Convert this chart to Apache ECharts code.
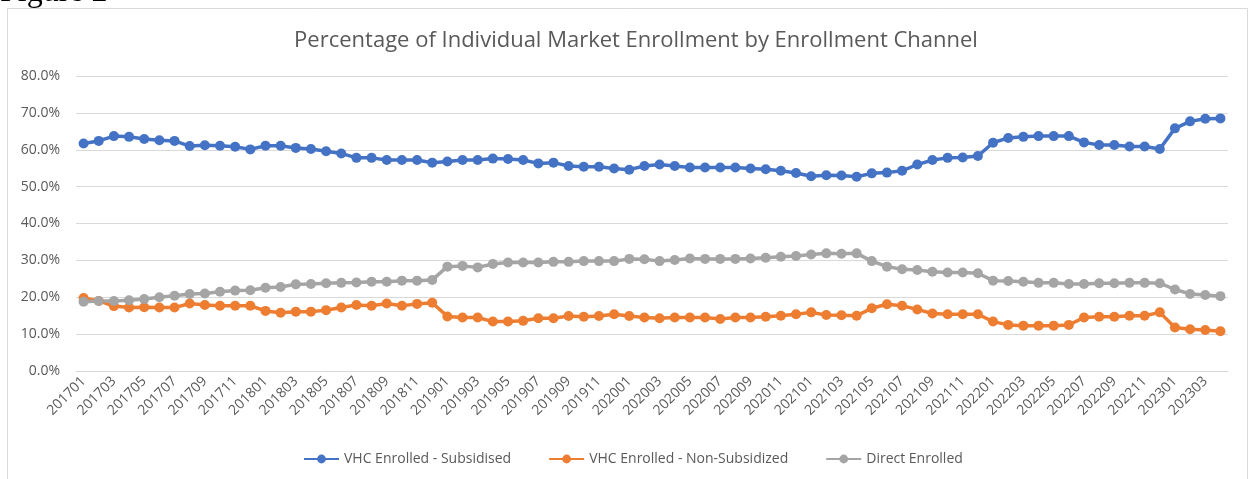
<!DOCTYPE html>
<html>
<head>
<meta charset="utf-8">
<title>Enrollment Channel</title>
<script src="https://cdn.jsdelivr.net/npm/echarts@6/dist/echarts.min.js"></script>
<style>
	html, body { margin: 0; padding: 0; background: #fff; }
	#chart { width: 1250px; height: 479px; }
</style>
</head>
<body>
<div id="chart"></div>
<script>
const months = [
	"201701", "201702", "201703", "201704", "201705", "201706", "201707", "201708", "201709", "201710", "201711", "201712",
	"201801", "201802", "201803", "201804", "201805", "201806", "201807", "201808", "201809", "201810", "201811", "201812",
	"201901", "201902", "201903", "201904", "201905", "201906", "201907", "201908", "201909", "201910", "201911", "201912",
	"202001", "202002", "202003", "202004", "202005", "202006", "202007", "202008", "202009", "202010", "202011", "202012",
	"202101", "202102", "202103", "202104", "202105", "202106", "202107", "202108", "202109", "202110", "202111", "202112",
	"202201", "202202", "202203", "202204", "202205", "202206", "202207", "202208", "202209", "202210", "202211", "202212",
	"202301", "202302", "202303", "202304"
];

// percentages
const subsidised = [
	61.7, 62.4, 63.7, 63.5, 62.9, 62.6, 62.4, 61.0, 61.2, 61.1, 60.8, 60.1,
	61.1, 61.1, 60.5, 60.2, 59.6, 59.0, 57.8, 57.8, 57.2, 57.2, 57.2, 56.5,
	56.8, 57.2, 57.2, 57.6, 57.5, 57.2, 56.3, 56.5, 55.6, 55.4, 55.4, 54.9,
	54.6, 55.6, 56.0, 55.6, 55.2, 55.2, 55.2, 55.2, 54.9, 54.7, 54.3, 53.7,
	52.8, 53.1, 53.0, 52.7, 53.6, 53.8, 54.3, 56.0, 57.2, 57.8, 57.9, 58.3,
	61.9, 63.2, 63.5, 63.7, 63.7, 63.7, 62.0, 61.3, 61.3, 60.9, 60.9, 60.2,
	65.8, 67.7, 68.4, 68.5
];
const nonSubsidized = [
	19.8, 19.0, 17.6, 17.2, 17.3, 17.2, 17.2, 18.3, 17.9, 17.7, 17.7, 17.7,
	16.3, 15.8, 16.1, 16.1, 16.5, 17.2, 17.9, 17.7, 18.3, 17.7, 18.2, 18.5,
	14.8, 14.5, 14.5, 13.4, 13.4, 13.6, 14.3, 14.3, 14.9, 14.7, 14.9, 15.4,
	14.9, 14.5, 14.3, 14.5, 14.5, 14.5, 14.1, 14.5, 14.5, 14.7, 15.0, 15.4,
	15.9, 15.2, 15.1, 15.0, 17.0, 18.1, 17.7, 16.7, 15.6, 15.4, 15.4, 15.4,
	13.4, 12.5, 12.3, 12.3, 12.3, 12.5, 14.5, 14.7, 14.7, 15.0, 15.0, 15.9,
	11.8, 11.3, 11.1, 10.8
];
const direct = [
	18.8, 19.0, 19.0, 19.2, 19.5, 20.0, 20.4, 20.9, 21.0, 21.5, 21.8, 21.9,
	22.6, 22.8, 23.5, 23.6, 23.8, 23.9, 24.0, 24.2, 24.2, 24.5, 24.5, 24.7,
	28.3, 28.5, 28.1, 29.0, 29.4, 29.4, 29.4, 29.6, 29.6, 29.8, 29.8, 29.8,
	30.4, 30.3, 29.8, 30.1, 30.5, 30.4, 30.4, 30.4, 30.5, 30.7, 31.0, 31.2,
	31.6, 31.9, 31.8, 31.9, 29.8, 28.3, 27.6, 27.4, 26.9, 26.7, 26.7, 26.5,
	24.5, 24.4, 24.2, 23.9, 23.9, 23.6, 23.6, 23.8, 23.8, 23.9, 23.9, 23.8,
	22.1, 20.9, 20.6, 20.3
];

const seriesNames = ["VHC Enrolled - Subsidised", "VHC Enrolled - Non-Subsidized", "Direct Enrolled"];
const seriesColors = ["#4472C4", "#ED7D31", "#A5A5A5"];

(() => {
	const chart = echarts.init(document.getElementById("chart"));
	const txt = "#595959";
	const font = "'Open Sans', sans-serif";

	function lineSeries(i, data) {
		return {
			name: seriesNames[i],
			type: "line",
			data: data,
			symbol: "circle",
			symbolSize: 10,
			lineStyle: { color: seriesColors[i], width: 3.5 },
			itemStyle: { color: seriesColors[i] },
			animation: false
		}
	}

	chart.setOption({
		animation: false,
		textStyle: { fontFamily: font },
		title: {
			text: "Percentage of Individual Market Enrollment by Enrollment Channel",
			left: 631,
			textAlign: "center",
			top: 25,
			textStyle: { color: txt, fontSize: 22, fontWeight: "normal", fontFamily: font }
		},
		graphic: [
			{
				type: "rect",
				shape: { x: 7.5, y: 8.5, width: 1240, height: 490 },
				style: { fill: "none", stroke: "#d9d9d9", lineWidth: 1 },
				silent: true
			},
			{
				type: "text",
				style: {
					text: "Figure 2",
					x: 0,
					y: 9,
					verticalAlign: "bottom",
					font: "32px 'Liberation Serif', serif",
					fill: "#000"
				},
				silent: true
			}
		],
		legend: {
			bottom: 8,
			left: 298,
			itemWidth: 35,
			itemHeight: 11,
			itemGap: 37,
			textStyle: { color: txt, fontSize: 14, fontFamily: font },
			data: seriesNames
		},
		grid: { left: 76, right: 22, top: 76, bottom: 108 },
		xAxis: {
			type: "category",
			data: months,
			boundaryGap: true,
			axisLine: { lineStyle: { color: "#d9d9d9" } },
			axisTick: { show: false },
			axisLabel: { interval: 1, rotate: 45, color: txt, fontSize: 14, margin: 8 }
		},
		yAxis: {
			type: "value",
			min: 0,
			max: 80,
			interval: 10,
			axisLine: { show: false },
			axisTick: { show: false },
			splitLine: { lineStyle: { color: "#d9d9d9", width: 1 } },
			axisLabel: { color: txt, fontSize: 14, margin: 16, formatter: v => v.toFixed(1) + "%" }
		},
		series: [
			lineSeries(0, subsidised),
			lineSeries(1, nonSubsidized),
			lineSeries(2, direct)
		]
	});
})();
</script>
</body>
</html>
